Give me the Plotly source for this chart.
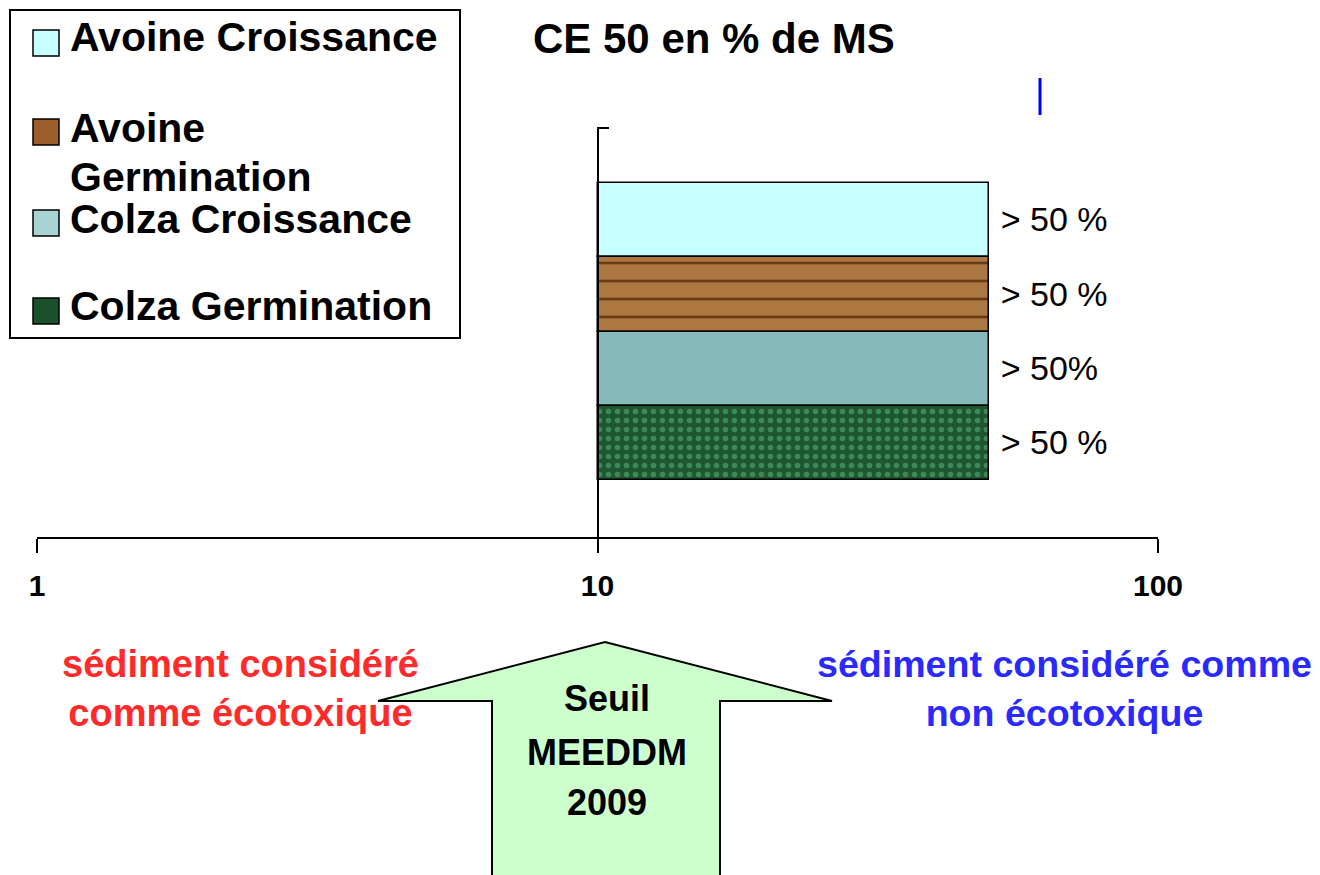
import plotly.graph_objects as go

# ---------------- data ----------------
categories = ["Avoine Croissance", "Avoine Germination", "Colza Croissance", "Colza Germination"]
ce50_values = [50, 50, 50, 50]          # CE 50 (% de MS), lower bound "> 50 %"
bar_base = 10                            # seuil MEEDDM 2009
bar_labels = ["> 50 %", "> 50 %", "> 50%", "> 50 %"]
legend_labels = ["Avoine Croissance", "Avoine", "Germination", "Colza Croissance", "Colza Germination"]
x_tickvals = [1, 10, 100]
x_ticktext = ["1", "10", "100"]

# ---------------- styles ----------------
bar_colors = ["#C8FFFF", "#AD7742", "#86B9B9", "#1E5631"]
pattern_shapes = ["", "-", "", "."]
pattern_fg = ["#C8FFFF", "#6A3C15", "#86B9B9", "#3C8A58"]
pattern_sizes = [10, 18, 10, 9]
pattern_solid = [0.1, 0.15, 0.1, 0.3]
legend_colors = ["#C8FFFF", "#9C5F2C", "#A9D3D3", "#1C4F2C"]
FONT = "Liberation Sans, Arial, sans-serif"

OFF = 8                      # page body margin
W_FIG, H_FIG = 1320 - OFF, 875 - OFF
# plot area in screenshot pixels
L, R, T, B = 37, 1158, 128, 537
PW, PH = R - L, B - T


def px(x):
    return (x - L) / PW


def py(y):
    return (B - y) / PH


fig = go.Figure()
for i, cat in enumerate(categories):
    marker = dict(color=bar_colors[i], line=dict(color="black", width=1.5))
    if pattern_shapes[i]:
        marker["pattern"] = dict(shape=pattern_shapes[i], fgcolor=pattern_fg[i],
                                 bgcolor=bar_colors[i], size=pattern_sizes[i],
                                 solidity=pattern_solid[i], fgopacity=1, fillmode="replace")
    fig.add_trace(go.Bar(
        y=[cat],
        x=[ce50_values[i] - bar_base],
        base=[bar_base],
        orientation="h",
        marker=marker,
        text=[" " + bar_labels[i]],
        textposition="outside",
        constraintext="none",
        cliponaxis=False,
        textfont=dict(family=FONT, size=34, color="black"),
        showlegend=False,
        hoverinfo="skip",
    ))

fig.update_layout(
    width=W_FIG, height=H_FIG,
    margin=dict(l=L - OFF, r=W_FIG - (R - OFF), t=T - OFF, b=H_FIG - (B - OFF)),
    paper_bgcolor="white", plot_bgcolor="white",
    barmode="overlay",
    bargap=0,
    showlegend=False,
    font=dict(family=FONT, color="black"),
    xaxis=dict(type="log", range=[0, 2], tickvals=x_tickvals, ticktext=x_ticktext,
               showline=True, linecolor="black", linewidth=2,
               ticks="outside", ticklen=14, tickwidth=2, tickcolor="black",
               ticklabelstandoff=7,
               tickfont=dict(family=FONT, size=30, color="black", weight="bold"),
               showgrid=False, zeroline=False),
    yaxis=dict(type="category", categoryorder="array", categoryarray=categories[::-1],
               range=[-1.265, 4.24], anchor="free", position=0.5,
               showline=True, linecolor="black", linewidth=2,
               showticklabels=False, ticks="", showgrid=False, zeroline=False),
)

shapes = []
annotations = []

annotations.append(dict(text="CE 50 en % de MS", xref="paper", yref="paper", x=px(714), y=py(38),
                        xanchor="center", yanchor="middle", showarrow=False,
                        font=dict(family=FONT, size=42, color="black", weight="bold")))

# small top tick on y-axis
shapes.append(dict(type="line", xref="paper", yref="paper", x0=px(597), x1=px(609),
                   y0=py(128), y1=py(128), line=dict(color="black", width=2)))
# blue vertical mark
shapes.append(dict(type="line", xref="paper", yref="paper", x0=px(1040), x1=px(1040),
                   y0=py(78), y1=py(115), line=dict(color="#0000FF", width=3)))

# legend box
shapes.append(dict(type="rect", xref="paper", yref="paper", x0=px(10), x1=px(460),
                   y0=py(10), y1=py(338), line=dict(color="black", width=2),
                   fillcolor="white", layer="above"))
sq_centers = [43, 132, 223, 311]
for col, sc in zip(legend_colors, sq_centers):
    shapes.append(dict(type="rect", xref="paper", yref="paper", x0=px(33), x1=px(59),
                       y0=py(sc - 13), y1=py(sc + 13), fillcolor=col,
                       line=dict(color="black", width=1.5)))
txt_centers = [37, 128, 177, 219, 306]
for lab, tc in zip(legend_labels, txt_centers):
    annotations.append(dict(text=lab, xref="paper", yref="paper", x=px(68), y=py(tc),
                            xanchor="left", yanchor="middle", showarrow=False, align="left",
                            font=dict(family=FONT, size=41, color="black", weight="bold")))

# big up arrow (seuil)
pts = [(605, 642), (832, 701), (720, 701), (720, 890), (492, 890), (492, 701), (378, 701)]
path = "M " + " L ".join(f"{px(x):.5f},{py(y):.5f}" for x, y in pts) + " Z"
shapes.append(dict(type="path", xref="paper", yref="paper", path=path,
                   fillcolor="#CCFFCC", line=dict(color="black", width=2)))

for txt, yc in zip(["Seuil", "MEEDDM", "2009"], [698, 752, 802]):
    annotations.append(dict(text=txt, xref="paper", yref="paper", x=px(607), y=py(yc),
                            xanchor="center", yanchor="middle", showarrow=False,
                            font=dict(family=FONT, size=36, color="black", weight="bold")))

annotations.append(dict(text="sédiment considéré<br>comme écotoxique", xref="paper", yref="paper",
                        x=px(240), y=py(688), xanchor="center", yanchor="middle", showarrow=False,
                        font=dict(family=FONT, size=38, color="#FF2A2A", weight="bold")))
annotations.append(dict(text="sédiment considéré comme<br>non écotoxique", xref="paper", yref="paper",
                        x=px(1064), y=py(688), xanchor="center", yanchor="middle", showarrow=False,
                        font=dict(family=FONT, size=37.6, color="#2A2AFF", weight="bold")))

fig.update_layout(shapes=shapes, annotations=annotations)
fig.write_html("out.html")
